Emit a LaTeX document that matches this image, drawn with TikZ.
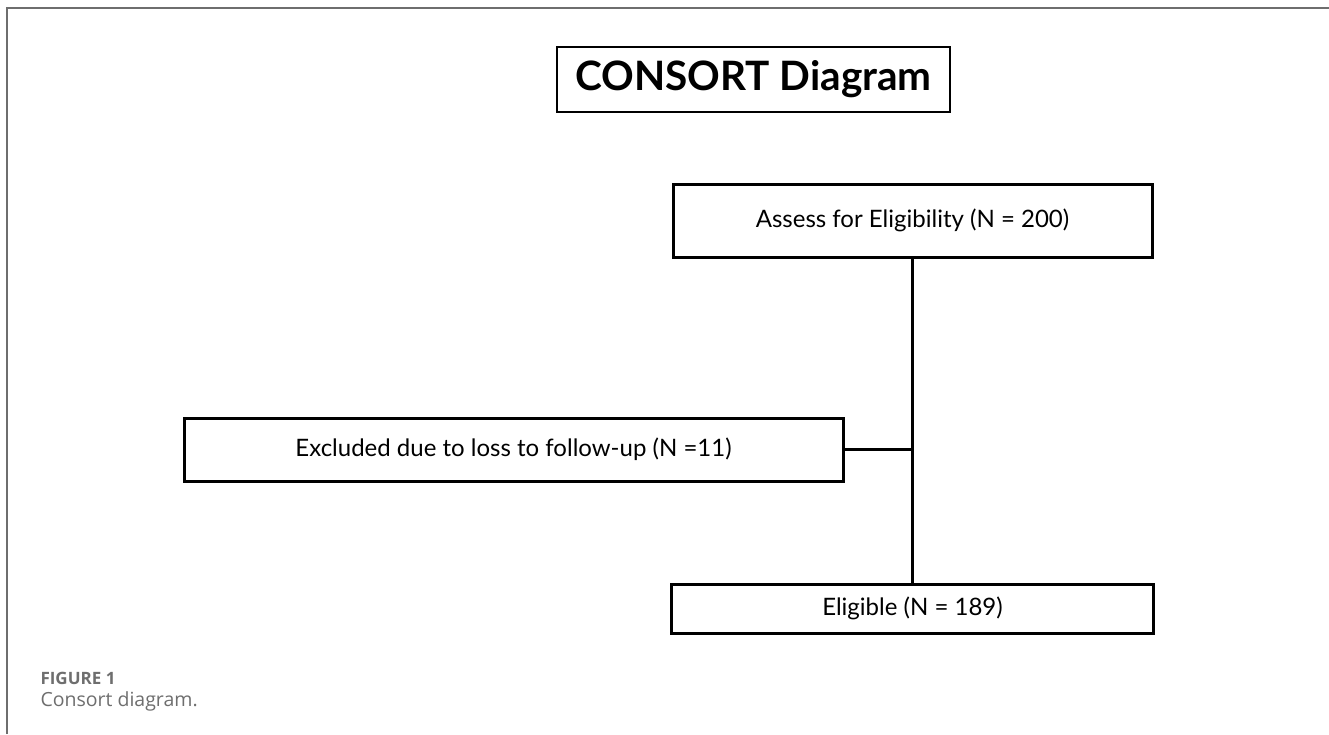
\documentclass[tikz,border=0pt]{standalone}
\usepackage{fontspec}
\setmainfont{Lato}
\newfontfamily\capfont{Open Sans}
\usetikzlibrary{calc}
\definecolor{capgray}{RGB}{110,110,110}
\tikzset{
  flowbox/.style={draw=black, line width=3pt, fill=white, inner sep=0pt,
    font={\fontsize{24}{28}\selectfont}},
  link/.style={draw=black, line width=2.2pt}
}

\begin{document}
\begin{tikzpicture}[x=1pt, y=-1pt]
			%%%%% START %%%%%
			\useasboundingbox (0, 0) rectangle (1329, 734);
			
			\draw[line width=2pt, color=capgray] (7, 734) -- (7, 8) -- (1329, 8);
			
			\node[draw=black, line width=2.8pt, minimum width=393pt, minimum height=65pt, inner sep=0pt,
			  font={\bfseries\fontsize{40.5}{46}\selectfont}] (title) at (753.5, 79.5) {CONSORT Diagram};
			
			\node[flowbox, minimum width=479pt, minimum height=73pt] (assess) at (912.5, 220.5) {Assess for Eligibility (N = 200)};
			\node[flowbox, minimum width=659pt, minimum height=63pt] (excl) at (513.5, 449.5) {Excluded due to loss to follow-up (N =11)};
			\node[flowbox, minimum width=482pt, minimum height=49pt] (elig) at (912.5, 608.5) {Eligible (N = 189)};
			
			\coordinate (jn) at (excl.east -| assess.south);
			\draw[link] (assess.south) -- (elig.north);
			\draw[link] (excl.east) -- (jn);
			
			\node[anchor=west, color=capgray, font={\capfont\bfseries\fontsize{17}{20}\selectfont}] (fig) at (37, 678) {FIGURE 1};
			\node[anchor=west, color=capgray, font={\capfont\fontsize{19.5}{23}\selectfont}] (cap) at (37, 701) {Consort diagram.};
			
			%%%%% END %%%%%
		\end{tikzpicture}
\end{document}
